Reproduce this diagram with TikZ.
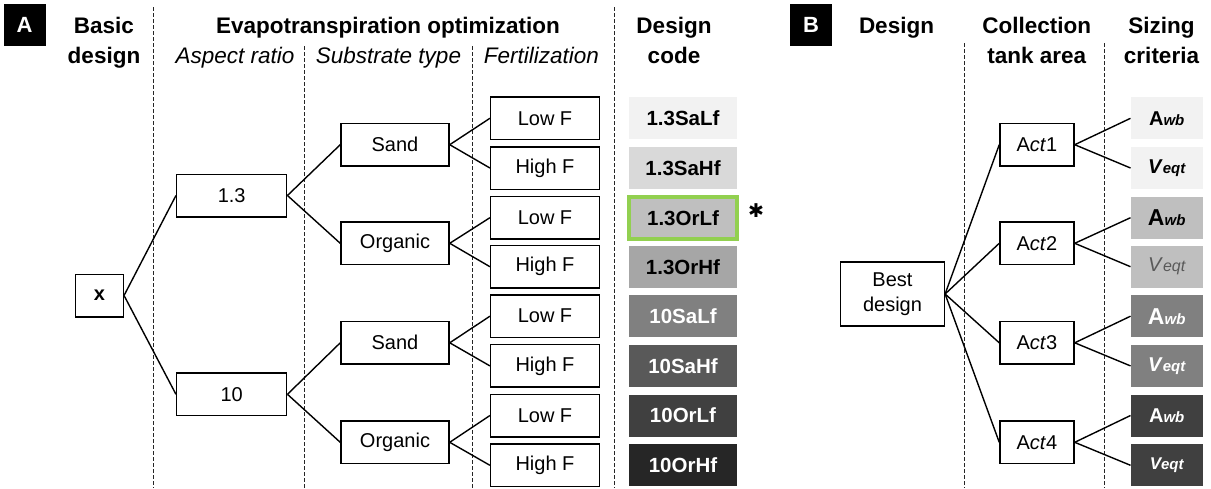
\documentclass[tikz,border=0pt]{standalone}
\usepackage{fontspec}
\setmainfont{Liberation Sans}
\newfontfamily\symfont{DejaVu Sans}
\definecolor{gA}{HTML}{F2F2F2}
\definecolor{gB}{HTML}{D9D9D9}
\definecolor{gC}{HTML}{BFBFBF}
\definecolor{gD}{HTML}{A6A6A6}
\definecolor{gE}{HTML}{808080}
\definecolor{gF}{HTML}{595959}
\definecolor{gG}{HTML}{404040}
\definecolor{gH}{HTML}{262626}
\definecolor{hl}{HTML}{92D050}
\begin{document}
\begin{tikzpicture}[x=1pt,y=-1pt,
  box/.style={draw, line width=1.5pt, inner sep=0pt, minimum height=42.5pt, font=\fontsize{20}{24}\selectfont},
  code/.style={inner sep=0pt, minimum width=107.7pt, minimum height=42pt, font=\fontsize{20.5}{24}\selectfont\bfseries},
  size/.style={inner sep=0pt, minimum width=72pt, minimum height=42pt, font=\fontsize{20}{24}\selectfont},
  link/.style={line width=1.4pt},
  sepline/.style={line width=0.8pt, dash pattern=on 4pt off 2pt, black!85},
  hdr/.style={anchor=base, inner sep=0pt, font=\fontsize{22.5}{27}\selectfont\bfseries},
  sub/.style={anchor=base, inner sep=0pt, font=\fontsize{22.5}{27}\selectfont\itshape},
  panel/.style={fill=black, text=white, inner sep=0pt, minimum size=42pt, font=\fontsize{22}{26}\selectfont\bfseries},
]
\useasboundingbox (0,0) rectangle (1211,488);
\fill[white] (0,0) rectangle (1211,488);

% dividers
\draw[sepline] (153,7) -- (153,488);
\draw[sepline] (304,46) -- (304,488);
\draw[sepline] (472,46) -- (472,488);
\draw[sepline] (614,7) -- (614,488);
\draw[sepline] (964,43) -- (964,488);
\draw[sepline] (1104,43) -- (1104,488);

% panel labels
\node[panel] (labA) at (24.5,25.3) {A};
\node[panel] (labB) at (811,25.3) {B};

% headers panel A
\node[hdr] (h1a) at (104,33) {Basic};
\node[hdr] (h1b) at (104,63) {design};
\node[hdr] (h2) at (388,33) {Evapotranspiration optimization};
\node[sub] (h2a) at (235,63) {Aspect ratio};
\node[sub] (h2b) at (388.5,63) {Substrate type};
\node[sub] (h2c) at (541.5,63) {Fertilization};
\node[hdr] (h3a) at (674,33) {Design};
\node[hdr] (h3b) at (674,63) {code};
% headers panel B
\node[hdr] (h4) at (896.5,33) {Design};
\node[hdr] (h5a) at (1036.7,33) {Collection};
\node[hdr] (h5b) at (1036.7,63) {tank area};
\node[hdr] (h6a) at (1161.5,33) {Sizing};
\node[hdr] (h6b) at (1161.5,63) {criteria};

% panel A tree
\node[box, minimum width=47.6pt, font=\fontsize{20}{24}\selectfont\bfseries] (x) at (99.5,295.5) {x};
\node[box, minimum width=110pt] (r13) at (231.7,195.5) {1.3};
\node[box, minimum width=110pt] (r10) at (231.7,394.3) {10};

\node[box, minimum width=108pt] (s1) at (395,144.7) {Sand};
\node[box, minimum width=108pt] (o1) at (395,243.3) {Organic};
\node[box, minimum width=108pt] (s2) at (395,342.8) {Sand};
\node[box, minimum width=108pt] (o2) at (395,442.3) {Organic};

\node[box, minimum width=108.7pt] (f1) at (545,118.3) {Low F};
\node[box, minimum width=108.7pt] (f2) at (545,168) {High F};
\node[box, minimum width=108.7pt] (f3) at (545,217.7) {Low F};
\node[box, minimum width=108.7pt] (f4) at (545,266.7) {High F};
\node[box, minimum width=108.7pt] (f5) at (545,316.2) {Low F};
\node[box, minimum width=108.7pt] (f6) at (545,365.9) {High F};
\node[box, minimum width=108.7pt] (f7) at (545,415.5) {Low F};
\node[box, minimum width=108.7pt] (f8) at (545,465.3) {High F};

\node[code, fill=gA] (c1) at (683,118.3) {1.3SaLf};
\node[code, fill=gB] (c2) at (683,168) {1.3SaHf};
\node[code, fill=gC, draw=hl, line width=4pt] (c3) at (683,218.3) {1.3OrLf};
\node[code, fill=gD] (c4) at (683,266.7) {1.3OrHf};
\node[code, fill=gE, text=white] (c5) at (683,316.2) {10SaLf};
\node[code, fill=gF, text=white] (c6) at (683,365.9) {10SaHf};
\node[code, fill=gG, text=white] (c7) at (683,415.5) {10OrLf};
\node[code, fill=gH, text=white] (c8) at (683,465.3) {10OrHf};
\node[inner sep=0pt, font=\symfont\fontsize{19}{20}\selectfont] (star) at (756,211) {✱};

\draw[link] (x.east) -- (r13.west);
\draw[link] (x.east) -- (r10.west);
\draw[link] (r13.east) -- (s1.west);
\draw[link] (r13.east) -- (o1.west);
\draw[link] (r10.east) -- (s2.west);
\draw[link] (r10.east) -- (o2.west);
\draw[link] (s1.east) -- (f1.west);
\draw[link] (s1.east) -- (f2.west);
\draw[link] (o1.east) -- (f3.west);
\draw[link] (o1.east) -- (f4.west);
\draw[link] (s2.east) -- (f5.west);
\draw[link] (s2.east) -- (f6.west);
\draw[link] (o2.east) -- (f7.west);
\draw[link] (o2.east) -- (f8.west);

% panel B tree
\node[box, minimum width=103.7pt, minimum height=64.3pt, align=center] (best) at (892.5,294) {Best\\[1pt]design};
\node[box, minimum width=74pt] (a1) at (1037,144.7) {A\textit{ct}1};
\node[box, minimum width=74pt] (a2) at (1037,243.3) {A\textit{ct}2};
\node[box, minimum width=74pt] (a3) at (1037,342.8) {A\textit{ct}3};
\node[box, minimum width=74pt] (a4) at (1037,442.3) {A\textit{ct}4};

\node[size, fill=gA] (z1) at (1166.7,118.3) {\textbf{A}{\fontsize{15}{18}\selectfont\bfseries\itshape wb}};
\node[size, fill=gA] (z2) at (1166.7,168) {\textbf{\textit{V}}{\fontsize{15}{18}\selectfont\bfseries\itshape eqt}};
\node[size, fill=gC] (z3) at (1166.7,217.7) {{\fontsize{23}{26}\selectfont\bfseries A}{\fontsize{15}{18}\selectfont\bfseries\itshape wb}};
\node[size, fill=gC, text=gF] (z4) at (1166.7,266.7) {\textit{V}{\fontsize{16}{18}\selectfont\itshape eqt}};
\node[size, fill=gE, text=white] (z5) at (1166.7,316.2) {{\fontsize{23}{26}\selectfont\bfseries A}{\fontsize{15}{18}\selectfont\bfseries\itshape wb}};
\node[size, fill=gE, text=white] (z6) at (1166.7,365.9) {\textbf{\textit{V}}{\fontsize{15}{18}\selectfont\bfseries\itshape eqt}};
\node[size, fill=gG, text=white] (z7) at (1166.7,415.5) {\textbf{A}{\fontsize{15}{18}\selectfont\bfseries\itshape wb}};
\node[size, fill=gG, text=white] (z8) at (1166.7,465.3) {{\fontsize{17}{20}\selectfont\bfseries\itshape V}{\fontsize{15}{18}\selectfont\bfseries\itshape eqt}};

\draw[link] (best.east) -- (a1.west);
\draw[link] (best.east) -- (a2.west);
\draw[link] (best.east) -- (a3.west);
\draw[link] (best.east) -- (a4.west);
\draw[link] (a1.east) -- (z1.west);
\draw[link] (a1.east) -- (z2.west);
\draw[link] (a2.east) -- (z3.west);
\draw[link] (a2.east) -- (z4.west);
\draw[link] (a3.east) -- (z5.west);
\draw[link] (a3.east) -- (z6.west);
\draw[link] (a4.east) -- (z7.west);
\draw[link] (a4.east) -- (z8.west);
\end{tikzpicture}
\end{document}
